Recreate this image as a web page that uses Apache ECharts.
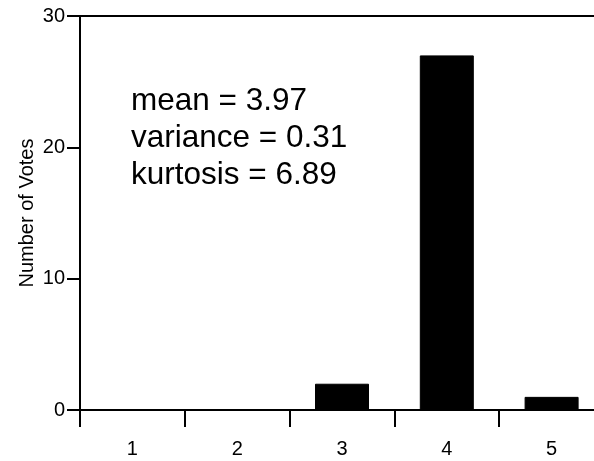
<!DOCTYPE html>
<html>
<head>
<meta charset="utf-8">
<script src="https://cdn.jsdelivr.net/npm/echarts@6/dist/echarts.min.js"></script>
<style>html,body{margin:0;padding:0;background:#fff;}#c{width:594px;height:461px;}</style>
</head>
<body>
<div id="c"></div>
<script>
const categories = ['1', '2', '3', '4', '5'];
const votes = [0, 0, 2, 27, 1];
const statLines = ['mean = 3.97', 'variance = 0.31', 'kurtosis = 6.89'];
const yAxisName = 'Number of Votes';

const FONT = '"Liberation Sans", Arial, Helvetica, sans-serif';
const chart = echarts.init(document.getElementById('c'), null, {renderer: 'canvas'});
chart.setOption({
  backgroundColor: '#fff',
  animation: false,
  grid: {left: 80, top: 16, width: 524, bottom: 51, outerBoundsMode: 'none', containLabel: false,
         show: true, borderColor: '#000', borderWidth: 2, backgroundColor: 'transparent'},
  xAxis: {
    type: 'category',
    data: categories,
    boundaryGap: true,
    axisLine: {show: true, lineStyle: {color: '#000', width: 2}},
    axisTick: {show: true, length: 17, lineStyle: {color: '#000', width: 2}, alignWithLabel: false},
    axisLabel: {color: '#000', fontSize: 20, fontFamily: FONT, margin: 29},
    splitLine: {show: false}
  },
  yAxis: {
    type: 'value',
    min: 0, max: 30, interval: 10,
    name: yAxisName,
    nameLocation: 'middle',
    nameGap: 43,
    nameMoveOverlap: false,
    nameTextStyle: {color: '#000', fontSize: 20, fontFamily: FONT},
    axisLine: {show: true, lineStyle: {color: '#000', width: 2}},
    axisTick: {show: true, length: 13, lineStyle: {color: '#000', width: 2}},
    axisLabel: {color: '#000', fontSize: 20, fontFamily: FONT, margin: 15},
    splitLine: {show: false}
  },
  series: [{
    type: 'bar',
    data: votes,
    barWidth: 54,
    itemStyle: {color: '#000', borderColor: '#000', borderWidth: 1}
  }],
  graphic: [{
    type: 'text',
    left: 131,
    top: 83,
    style: {
      text: statLines.join('\n'),
      fontSize: 31.5,
      lineHeight: 37,
      fontFamily: FONT,
      fill: '#000'
    }
  }]
});
</script>
</body>
</html>
